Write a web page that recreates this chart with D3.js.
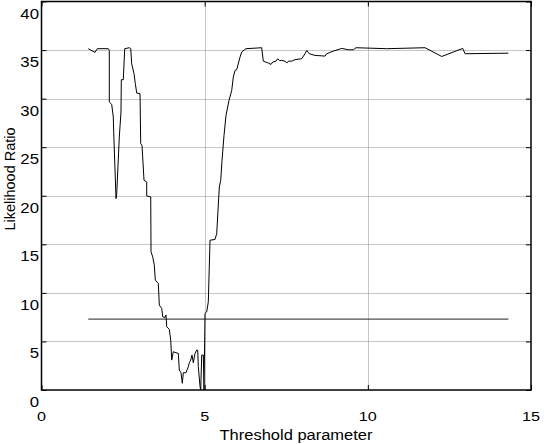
<!DOCTYPE html>
<html><head><meta charset="utf-8">
<script src="https://cdn.jsdelivr.net/npm/d3@7"></script>
<style>body{margin:0;background:#fff}svg{display:block}text{font-family:"Liberation Sans",Arial,sans-serif;fill:#000}</style>
</head><body>
<svg id="c" width="544" height="444"></svg>
<script>
const xTicks = [0, 5, 10, 15];
const yTicks = [0, 5, 10, 15, 20, 25, 30, 35, 40];
const xLabel = "Threshold parameter";
const yLabel = "Likelihood Ratio";
const thrX = [1.434,1.640,1.710,2.047,2.078,2.078,2.151,2.200,2.213,2.283,2.305,2.384,2.436,2.446,2.507,2.550,2.691,2.734,2.764,2.835,2.875,2.918,3.019,3.040,3.080,3.141,3.224,3.224,3.347,3.356,3.408,3.457,3.488,3.580,3.610,3.684,3.714,3.785,3.815,3.837,3.917,3.960,3.990,4.039,4.122,4.192,4.223,4.275,4.315,4.346,4.428,4.499,4.530,4.572,4.612,4.652,4.704,4.756,4.787,4.805,4.858,4.879,4.910,4.959,4.980,5.011,5.063,5.112,5.164,5.317,5.369,5.449,5.492,5.532,5.593,5.654,5.746,5.829,5.878,5.930,5.982,6.083,6.135,6.215,6.267,6.748,6.797,6.951,7.033,7.086,7.187,7.239,7.288,7.361,7.462,7.515,7.564,7.668,7.769,7.974,8.075,8.127,8.207,8.382,8.688,8.740,8.943,9.200,9.402,9.556,9.638,10.579,11.753,12.265,12.908,12.979,14.306];
const ratio = [35.14,34.76,35.14,35.14,34.96,29.65,29.41,28.10,26.56,19.71,20.23,26.05,28.62,31.95,31.95,35.14,35.24,35.14,33.59,32.57,31.54,30.57,30.51,25.37,25.19,21.59,21.42,19.98,19.88,14.22,13.71,12.85,11.31,10.97,8.74,8.40,7.54,7.48,7.71,6.51,6.24,5.14,3.08,3.94,3.84,3.77,2.06,1.78,0.69,1.78,1.78,2.40,2.81,3.08,3.60,2.81,3.77,4.11,4.11,2.40,0.34,0.00,3.60,3.60,0.00,7.89,8.05,9.08,15.42,15.50,16.11,20.90,21.59,23.65,26.22,28.28,29.82,30.85,32.22,32.90,32.98,34.27,34.79,35.03,35.14,35.24,33.86,33.66,33.52,33.76,33.86,34.11,33.93,33.93,33.86,33.66,33.86,33.86,34.01,34.11,34.62,34.96,34.62,34.45,34.38,34.62,34.89,35.17,35.03,35.03,35.24,35.14,35.24,34.34,35.17,34.62,34.68];
const refX = [1.434, 14.306];
const refY = [7.3, 7.3];

const svg = d3.select("#c");
const L = 41.5, R = 531, T = 1.5, B = 390;
const x = d3.scaleLinear().domain([0, 15]).range([L, R]);
const y = d3.scaleLinear().domain([0, 40]).range([B, T]);
const px = v => Math.round(v) + 0.5;

// grid
const g = svg.append("g");
g.selectAll(".gy").data(yTicks.filter(d => d > 0 && d < 40)).enter().append("line")
  .attr("x1", L).attr("x2", R).attr("y1", d => px(y(d))).attr("y2", d => px(y(d)))
  .attr("stroke", "#8c8c8c").attr("stroke-dasharray", "1,1").attr("stroke-width", 1);
g.selectAll(".gx").data(xTicks.filter(d => d > 0 && d < 15)).enter().append("line")
  .attr("y1", T).attr("y2", B).attr("x1", d => px(x(d))).attr("x2", d => px(x(d)))
  .attr("stroke", "#8c8c8c").attr("stroke-dasharray", "1,1").attr("stroke-width", 1);

// axes with inward ticks
const axL = svg.append("g").attr("transform", `translate(${L},0)`)
  .call(d3.axisRight(y).tickValues(yTicks).tickSize(5).tickFormat(""));
const axR = svg.append("g").attr("transform", `translate(${R},0)`)
  .call(d3.axisLeft(y).tickValues(yTicks).tickSize(5).tickFormat(""));
const axB = svg.append("g").attr("transform", `translate(0,${B})`)
  .call(d3.axisTop(x).tickValues(xTicks).tickSize(5).tickFormat(""));
const axT = svg.append("g").attr("transform", `translate(0,${T})`)
  .call(d3.axisBottom(x).tickValues(xTicks).tickSize(5).tickFormat(""));
[axL, axR, axB, axT].forEach(a => { a.select(".domain").remove(); a.selectAll("line").attr("stroke", "#000"); });

// frame
svg.append("rect").attr("x", L).attr("y", T).attr("width", R - L).attr("height", B - T)
  .attr("fill", "none").attr("stroke", "#000").attr("stroke-width", 1.5);

// tick labels
svg.selectAll(".yl").data(yTicks).enter().append("text")
  .attr("transform", d => `translate(39,${y(d) + 17}) scale(1.2,1)`)
  .attr("text-anchor", "end").attr("font-size", 14).text(d => d);
svg.selectAll(".xl").data(xTicks).enter().append("text")
  .attr("transform", d => `translate(${x(d)},420.5) scale(1.2,1)`)
  .attr("text-anchor", "middle").attr("font-size", 13.5).text(d => d);

svg.append("text").attr("x", 296).attr("y", 439.5).attr("text-anchor", "middle")
  .attr("font-size", 14).attr("textLength", 153).attr("lengthAdjust", "spacingAndGlyphs").text(xLabel);
svg.append("text").attr("transform", "translate(15,179) rotate(-90)").attr("text-anchor", "middle")
  .attr("font-size", 14.5).text(yLabel);

// lines
const line = d3.line().x(d => x(d[0])).y(d => y(d[1]));
svg.append("path").datum(d3.zip(refX, refY)).attr("d", line)
  .attr("fill", "none").attr("stroke", "#222").attr("stroke-width", 1);
svg.append("path").datum(d3.zip(thrX, ratio)).attr("d", line)
  .attr("fill", "none").attr("stroke", "#000").attr("stroke-width", 1);
</script>
</body></html>
